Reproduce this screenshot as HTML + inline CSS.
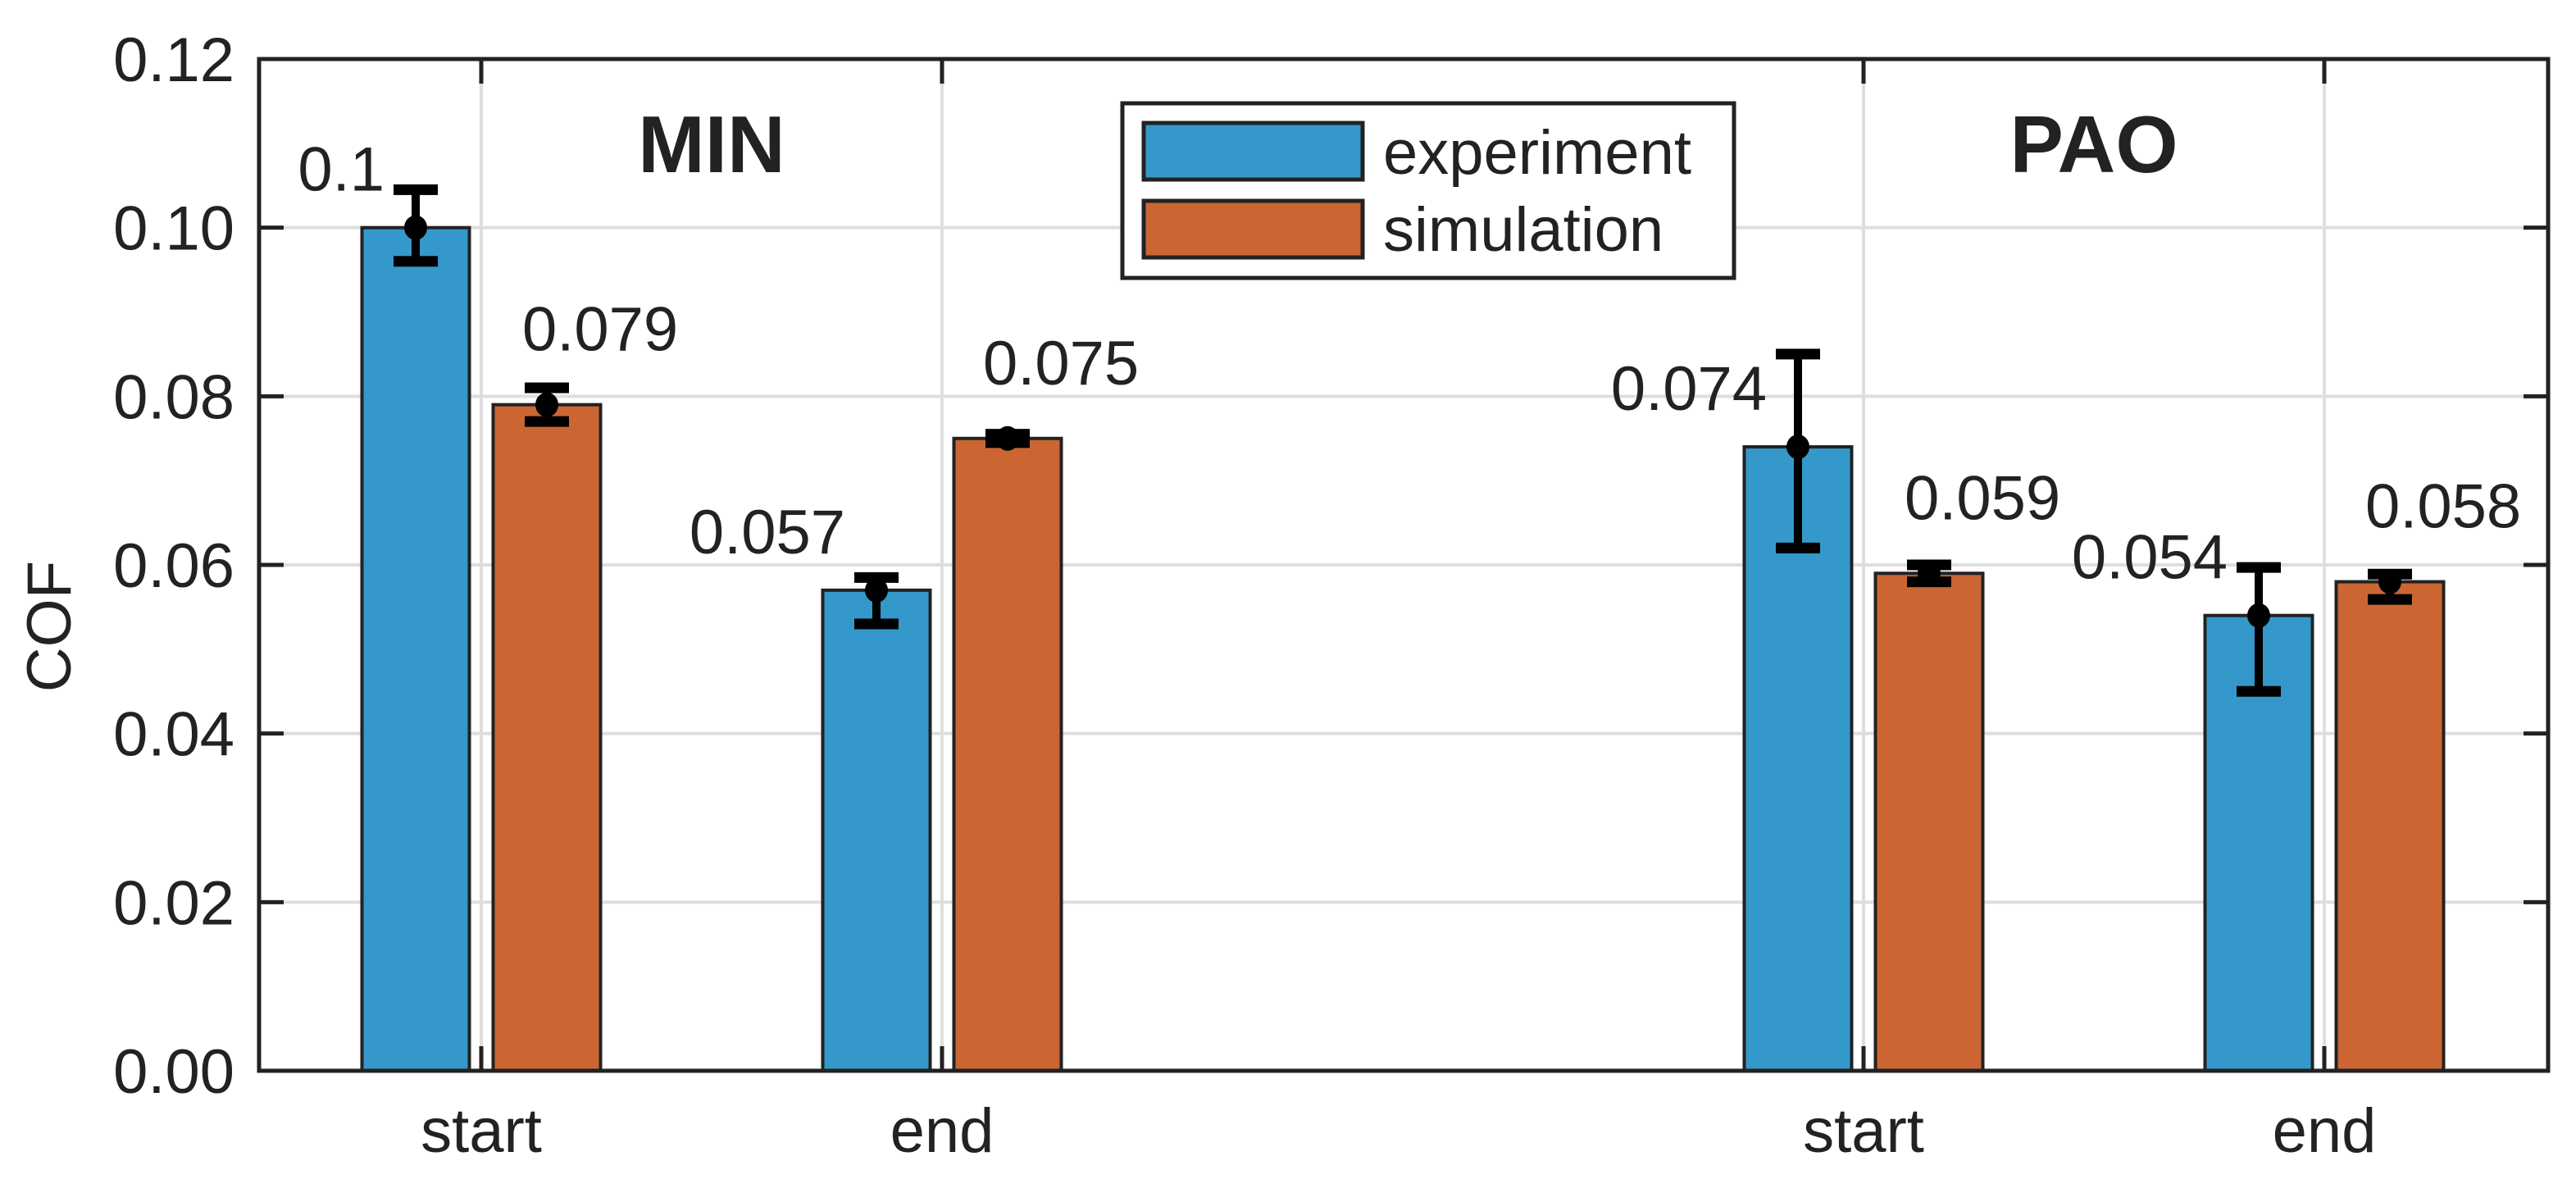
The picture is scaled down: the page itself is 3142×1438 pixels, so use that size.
<!DOCTYPE html>
<html><head><meta charset="utf-8"><style>
html,body{margin:0;padding:0;background:#fff;}
svg{display:block;font-family:"Liberation Sans",Arial,sans-serif;}
</style></head><body>
<svg id="chart" width="3142" height="1438" viewBox="0 0 3142 1438" xmlns="http://www.w3.org/2000/svg"></svg>
<script>
const categories = ["start","end","start","end"];
const categoryX = [1, 2, 4, 5];
const groups = ["MIN","PAO"];
const groupX = [1.5, 4.5];
const experiment = [0.1, 0.057, 0.074, 0.054];
const simulation = [0.079, 0.075, 0.059, 0.058];
const expLow = [0.096, 0.053, 0.062, 0.045];
const expHigh = [0.1045, 0.0585, 0.085, 0.0597];
const simLow = [0.077, 0.0745, 0.058, 0.0559];
const simHigh = [0.081, 0.0755, 0.060, 0.0589];
const yTicks = [0, 0.02, 0.04, 0.06, 0.08, 0.10, 0.12];
const yTickLabels = ["0.00","0.02","0.04","0.06","0.08","0.10","0.12"];
const expLabels = ["0.1","0.057","0.074","0.054"];
const simLabels = ["0.079","0.075","0.059","0.058"];

const NS = "http://www.w3.org/2000/svg";
const svg = document.getElementById("chart");
const L = 316, R = 3108, T = 72, B = 1306;
const xUnit = 562, x0px = 587;
function xs(v){ return x0px + (v - 1) * xUnit; }
function ys(v){ return B - v / 0.12 * (B - T); }
function mk(tag, attrs, parent){
  const e = document.createElementNS(NS, tag);
  for (const k in attrs) e.setAttribute(k, attrs[k]);
  (parent || svg).appendChild(e);
  return e;
}
const C_EXP = "#3498cb", C_SIM = "#cb6633", INK = "#222222";
const OFF = 80, BW = 131;

for (let i = 0; i < yTicks.length; i++) {
  const g = mk("line", {x1:L, x2:R, y1:ys(yTicks[i]), y2:ys(yTicks[i]), stroke:"#dedede", "stroke-width":4});
  
  
}
for (let i = 0; i < categoryX.length; i++) {
  const g = mk("line", {x1:xs(categoryX[i]), x2:xs(categoryX[i]), y1:T, y2:B, stroke:"#dedede", "stroke-width":4});
  
  
}

function drawBars(vals, lo, hi, labels, off, color, name, isExp){
  for (let i = 0; i < vals.length; i++) {
    const cx = xs(categoryX[i]) + off;
    const top = ys(vals[i]);
    const r = mk("rect", {x:cx - BW/2, y:top, width:BW, height:B - top, fill:color, stroke:INK, "stroke-width":4});
    
    
    const eg = mk("g", {});
    
    
    mk("line", {x1:cx, x2:cx, y1:ys(lo[i]), y2:ys(hi[i]), stroke:"#000", "stroke-width":10}, eg);
    mk("line", {x1:cx-27, x2:cx+27, y1:ys(lo[i]), y2:ys(lo[i]), stroke:"#000", "stroke-width":13}, eg);
    mk("line", {x1:cx-27, x2:cx+27, y1:ys(hi[i]), y2:ys(hi[i]), stroke:"#000", "stroke-width":13}, eg);
    mk("ellipse", {cx:cx, cy:top, rx:14, ry:15, fill:"#000"}, eg);
    const t = mk("text", {x: isExp ? cx - 38 : cx - 30, y: top - (isExp ? 45 : 66), "font-size":76, fill:INK, "text-anchor": isExp ? "end" : "start"});
    t.textContent = labels[i];
    
    
  }
}
drawBars(experiment, expLow, expHigh, expLabels, -OFF, C_EXP, 'experiment', true);
drawBars(simulation, simLow, simHigh, simLabels, OFF, C_SIM, 'simulation', false);

const frame = mk("rect", {x:L, y:T, width:R-L, height:B-T, fill:"none", stroke:INK, "stroke-width":5});


for (let i = 0; i < yTicks.length; i++) {
  const y = ys(yTicks[i]);
  mk("line", {x1:L, x2:L+30, y1:y, y2:y, stroke:INK, "stroke-width":5});
  mk("line", {x1:R, x2:R-30, y1:y, y2:y, stroke:INK, "stroke-width":5});
  const t = mk("text", {x:286, y:y+27, "font-size":76, fill:INK, "text-anchor":"end"});
  t.textContent = yTickLabels[i];
  
  
}
for (let i = 0; i < categoryX.length; i++) {
  const x = xs(categoryX[i]);
  mk("line", {x1:x, x2:x, y1:B, y2:B-30, stroke:INK, "stroke-width":5});
  mk("line", {x1:x, x2:x, y1:T, y2:T+30, stroke:INK, "stroke-width":5});
  const t = mk("text", {x:x, y:1405, "font-size":76, fill:INK, "text-anchor":"middle"});
  t.textContent = categories[i];
  
  
}
for (let i = 0; i < groups.length; i++) {
  const t = mk("text", {x:xs(groupX[i]), y:210, "font-size":98, "font-weight":"bold", fill:INK, "text-anchor":"middle"});
  t.textContent = groups[i];
  
  
}
const yl = mk("text", {x:0, y:0, "font-size":76, fill:INK, "text-anchor":"middle", transform:"translate(86,764) rotate(-90)"});
yl.textContent = "COF";



const lg = mk("g", {});


mk("rect", {x:1369, y:126, width:746, height:213, fill:"#fff", stroke:INK, "stroke-width":5}, lg);
const legendItems = [["experiment", C_EXP, 150, 212], ["simulation", C_SIM, 245, 306]];
for (const it of legendItems) {
  const e = mk("g", {}, lg);
  
  
  mk("rect", {x:1395, y:it[2], width:267, height:69, fill:it[1], stroke:INK, "stroke-width":5}, e);
  const t = mk("text", {x:1687, y:it[3], "font-size":76, fill:INK}, e);
  t.textContent = it[0];
}
</script>
</body></html>
